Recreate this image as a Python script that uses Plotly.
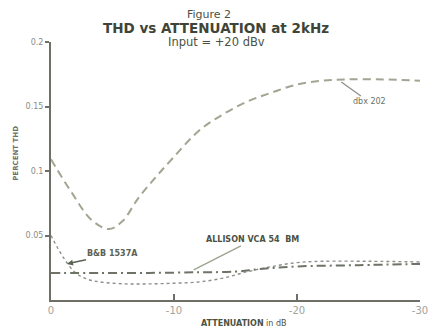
import plotly.graph_objects as go

# dbx 202 (dashed)
dbx_x = [0, -1.7, -3.3, -4.7, -5.8, -7.1, -8.5, -10, -12, -14, -16, -18, -20, -22, -24, -27, -30]
dbx_y = [0.109, 0.083, 0.062, 0.055, 0.061, 0.079, 0.095, 0.111, 0.131, 0.144, 0.154, 0.161, 0.167, 0.170, 0.171, 0.171, 0.170]

# B&B 1537A (dotted)
bb_x = [0, -1, -2, -3, -4, -6, -8, -10, -12, -14, -16, -18, -20, -22, -26, -30]
bb_y = [0.050, 0.033, 0.021, 0.016, 0.014, 0.0125, 0.0125, 0.013, 0.014, 0.017, 0.022, 0.026, 0.029, 0.030, 0.030, 0.0295]

# Allison VCA 54 BM (dash-dot)
al_x = [0, -4, -8, -12, -15, -17, -20, -25, -30]
al_y = [0.021, 0.021, 0.021, 0.0215, 0.022, 0.024, 0.026, 0.027, 0.028]

y_ticks = [0.05, 0.1, 0.15, 0.2]
y_text = ["0.05", "0.1", "0.15", "0.2"]
x_ticks = [0, -10, -20, -30]
x_text = ["0", "-10", "-20", "-30"]

FONT = "DejaVu Sans"
TXT = "#4b5244"

fig = go.Figure()
fig.add_trace(go.Scatter(x=dbx_x, y=dbx_y, mode="lines", line_shape="spline",
                         line=dict(color="#a0a691", width=2, dash="8px,5px")))
fig.add_trace(go.Scatter(x=bb_x, y=bb_y, mode="lines", line_shape="spline",
                         line=dict(color="#8c9088", width=1.4, dash="dot")))
fig.add_trace(go.Scatter(x=al_x, y=al_y, mode="lines", line_shape="spline",
                         line=dict(color="#6d7366", width=2, dash="9px,4px,2px,4px")))

fig.update_layout(
    width=431, height=331,
    margin=dict(l=51, r=3, t=42, b=31),
    paper_bgcolor="white", plot_bgcolor="white",
    showlegend=False,
    font=dict(family=FONT, color=TXT),
    xaxis=dict(range=[0, -30], tickvals=x_ticks, ticktext=x_text,
               showgrid=False, zeroline=False, showline=True, linecolor="#6e7068", linewidth=2,
               ticks="inside", ticklen=6, tickcolor="#6e7068", tickwidth=2,
               ticklabeloverflow="allow",
               tickfont=dict(size=10, color="#a0a29c")),
    yaxis=dict(range=[0, 0.2], tickvals=y_ticks, ticktext=y_text,
               showgrid=False, zeroline=False, showline=True, linecolor="#6e7068", linewidth=2,
               ticks="outside", ticklen=4, tickcolor="#6e7068", tickwidth=1.5,
               tickfont=dict(size=8, color="#8a8c86")),
)

ann = [
    dict(text="Figure 2", x=0.427, y=14, font=dict(size=11, color=TXT)),
    dict(text="<b>THD vs ATTENUATION at 2kHz</b>", x=0.448, y=28, font=dict(size=13.5, color="#3e4538")),
    dict(text="Input = +20 dBv", x=0.448, y=42, font=dict(size=11.5, color=TXT)),
]
annotations = []
for a in ann:
    annotations.append(dict(text=a["text"], xref="paper", yref="paper", x=a["x"],
                            y=1 + (42 - a["y"]) / 258, showarrow=False, font=a["font"],
                            xanchor="center", yanchor="middle"))
annotations += [
    dict(text="<b>ATTENUATION</b> in dB", xref="paper", yref="paper", x=0.522, y=-23 / 258,
         showarrow=False, font=dict(size=8, color=TXT), yanchor="middle"),
    dict(text="<b>PERCENT THD</b>", xref="paper", yref="paper", x=-36 / 377, y=(300 - 153) / 258,
         showarrow=False, textangle=-90, font=dict(size=7, color="#6d7266"), xanchor="center", yanchor="middle"),
    dict(text="dbx 202", x=-23.6, y=0.169, ax=28, ay=20, showarrow=True, arrowhead=0,
         arrowcolor="#8a8e86", arrowwidth=1.2, font=dict(size=8, color="#6d7266")),
    dict(text="<b>B&B 1537A</b>", x=-1.3, y=0.028, ax=46, ay=-10, showarrow=True, arrowhead=2,
         arrowsize=0.8, arrowcolor="#5c6254", arrowwidth=1.5, font=dict(size=8, color="#5c6254")),
    dict(text="<b>ALLISON VCA 54  BM</b>", x=-11.6, y=0.0233, ax=59, ay=-30, showarrow=True, arrowhead=0,
         arrowcolor="#9ea58f", arrowwidth=1.5, font=dict(size=8, color="#4b5244")),
]
fig.update_layout(annotations=annotations)

fig.write_html("out.html", config={"displayModeBar": False},
               post_script="document.body.style.margin='0';document.body.style.overflow='hidden';")
